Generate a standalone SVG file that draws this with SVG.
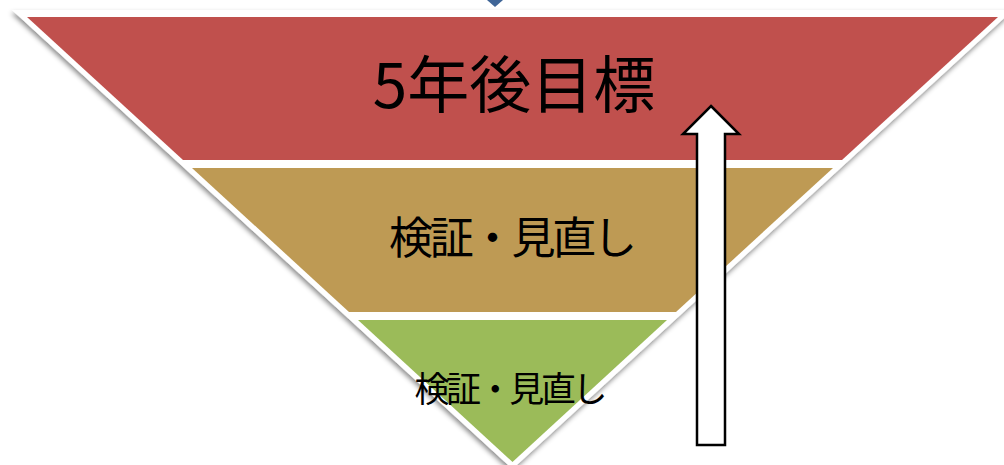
<svg xmlns="http://www.w3.org/2000/svg" width="1004" height="465" viewBox="0 0 1004 465">
  <style>
    .lbl { font-family: "Noto Sans CJK JP", "Noto Sans", sans-serif; fill: #000; text-anchor: middle; }
    .arrow { fill: #fff; stroke: #000; stroke-width: 2.5; stroke-linejoin: miter; }
  </style>
  <defs>
    <filter id="sh" x="-5%" y="-5%" width="110%" height="115%">
      <feDropShadow dx="-1" dy="3" stdDeviation="2.5" flood-color="#000" flood-opacity="0.45"/>
    </filter>
  </defs>
  <rect width="1004" height="465" fill="#fff"/>
  <g id="top-arrow-tip">
    <polygon points="487,0 503,0 495,7" fill="#3F6597"/>
  </g>
  <g id="pyramid-border">
    <polygon points="12,10 1013,10 512.5,469" fill="#fff" filter="url(#sh)"/>
  </g>
  <g id="node-goal">
    <polygon points="27,17 998,17 842,160 183,160" fill="#C0504D"/>
    <text class="lbl" x="514" y="108" font-size="62">5年後目標</text>
  </g>
  <g id="node-review-1">
    <polygon points="192,168 833,168 676,312 349,312" fill="#BE9A54"/>
    <text class="lbl" x="513" y="254" font-size="44" textLength="248" lengthAdjust="spacing">検証・見直し</text>
  </g>
  <g id="node-review-2">
    <polygon points="358,320 667,320 512.5,462" fill="#9BBB59"/>
    <text class="lbl" x="511" y="402" font-size="35" textLength="193" lengthAdjust="spacing">検証・見直し</text>
  </g>
  <g id="connectors">
    <polygon class="arrow" points="711,106 739,134 725,134 725,445 697,445 697,134 683,134"/>
  </g>
</svg>
